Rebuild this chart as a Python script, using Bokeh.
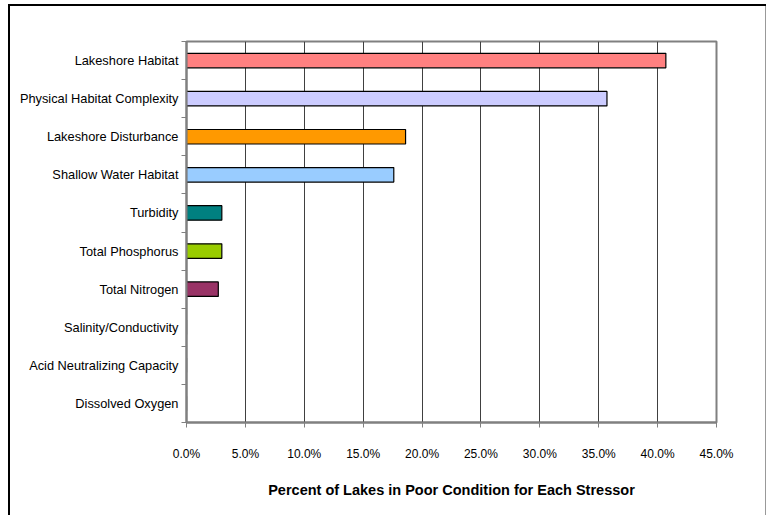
from bokeh.plotting import figure
from bokeh.models import ColumnDataSource, Range1d, FixedTicker, NumeralTickFormatter
from bokeh.embed import file_html
from bokeh.resources import INLINE

# ---- data ----
categories = [
    "Lakeshore Habitat",
    "Physical Habitat Complexity",
    "Lakeshore Disturbance",
    "Shallow Water Habitat",
    "Turbidity",
    "Total Phosphorus",
    "Total Nitrogen",
    "Salinity/Conductivity",
    "Acid Neutralizing Capacity",
    "Dissolved Oxygen",
]
percent_poor = [0.407, 0.357, 0.186, 0.176, 0.030, 0.030, 0.027, 0.0, 0.0, 0.0]
bar_colors = ["#FF8080", "#CCCCFF", "#FF9900", "#99CCFF", "#008080",
              "#99CC00", "#993366", "#FFFFFF", "#FFFFFF", "#FFFFFF"]
x_ticks = [0.0, 0.05, 0.10, 0.15, 0.20, 0.25, 0.30, 0.35, 0.40, 0.45]
x_title = "Percent of Lakes in Poor Condition for Each Stressor"

n = len(categories)
ypos = [n - 0.5 - i for i in range(n)]
src = ColumnDataSource(dict(y=ypos, right=percent_poor, color=bar_colors))

FONT = "Liberation Sans"

p = figure(width=766, height=515, output_backend="svg", toolbar_location=None,
           x_range=Range1d(0, 0.45), y_range=Range1d(0, n),
           min_border_left=186, min_border_right=50, min_border_top=41,
           min_border_bottom=93)
p.styles = {"box-shadow": ("inset 0 4px 0 0 #ffffff, inset 8px 0 0 0 #ffffff, "
                           "inset 0 6px 0 0 #000000, inset 10px 0 0 0 #000000, "
                           "inset -1px 0 0 0 #999999")}
p.border_fill_color = None
p.background_fill_color = "white"
p.outline_line_color = "#808080"
p.outline_line_width = 2

p.hbar(y="y", left=0, right="right", height=0.38, fill_color="color",
       line_color="#000000", line_width=1.2, source=src)

# x axis
p.xaxis.ticker = FixedTicker(ticks=x_ticks)
p.xaxis.formatter = NumeralTickFormatter(format="0.0%")
p.xaxis.axis_line_color = "#808080"
p.xaxis.axis_line_width = 2
p.xaxis.major_tick_line_color = "#808080"
p.xaxis.major_tick_out = 5
p.xaxis.major_tick_in = 0
p.xaxis.minor_tick_line_color = None
p.xaxis.major_label_text_font = FONT
p.xaxis.major_label_text_font_size = "12px"
p.xaxis.major_label_text_color = "#000000"
p.xaxis.major_label_standoff = 19
p.xaxis.axis_label = x_title
p.xaxis.axis_label_text_font = FONT
p.xaxis.axis_label_text_font_style = "bold"
p.xaxis.axis_label_text_font_size = "14.5px"
p.xaxis.axis_label_text_color = "#000000"
p.xaxis.axis_label_standoff = 18

# y axis
p.yaxis.ticker = FixedTicker(ticks=ypos, minor_ticks=list(range(n + 1)))
p.yaxis.major_label_overrides = {y: c for y, c in zip(ypos, categories)}
p.yaxis.axis_line_color = "#808080"
p.yaxis.axis_line_width = 2
p.yaxis.major_tick_line_color = None
p.yaxis.minor_tick_line_color = "#808080"
p.yaxis.minor_tick_out = 5
p.yaxis.minor_tick_in = 0
p.yaxis.major_label_text_font = FONT
p.yaxis.major_label_text_font_size = "12.8px"
p.yaxis.major_label_text_color = "#000000"
p.yaxis.major_label_standoff = 2

p.xgrid.grid_line_color = "#404040"
p.xgrid.grid_line_width = 1
p.ygrid.grid_line_color = None

open("out.html", "w").write(file_html(p, INLINE))
